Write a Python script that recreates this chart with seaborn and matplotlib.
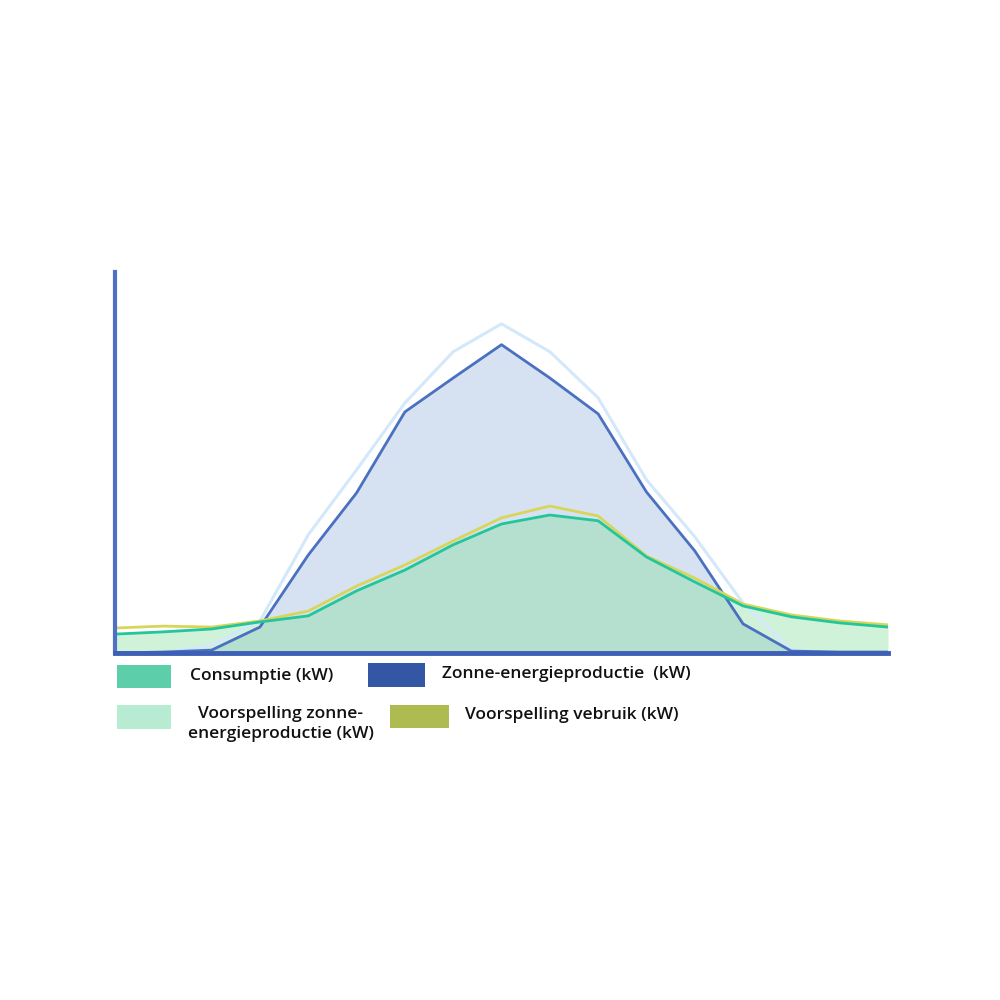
import numpy as np
import pandas as pd
import matplotlib
matplotlib.use("Agg")
import matplotlib.pyplot as plt
import seaborn as sns
from matplotlib.patches import Rectangle

# ---- data (kW) ----
hours = list(range(17))
solar = [0, 0.03, 0.09, 0.81, 3.06, 5.0, 7.53, 8.59, 9.63, 8.59, 7.47, 5.03, 3.19, 0.91, 0.06, 0.03, 0.03]
solar_forecast = [0, 0, 0.25, 1.0, 3.69, 5.72, 7.81, 9.41, 10.28, 9.41, 7.97, 5.41, 3.63, 1.56, 0.09, 0, 0]
consumption = [0.59, 0.66, 0.75, 0.97, 1.16, 1.94, 2.59, 3.38, 4.03, 4.31, 4.13, 3.0, 2.22, 1.47, 1.13, 0.94, 0.81]
consumption_forecast = [0.78, 0.84, 0.81, 1.0, 1.31, 2.09, 2.75, 3.5, 4.22, 4.59, 4.28, 3.03, 2.34, 1.53, 1.19, 1.0, 0.88]

legend_labels = ["Consumptie (kW)", "Zonne-energieproductie  (kW)",
                 "Voorspelling zonne-\nenergieproductie (kW)", "Voorspelling vebruik (kW)"]

df = pd.DataFrame({"hour": hours, "solar": solar, "solar_fc": solar_forecast,
                   "cons": consumption, "cons_fc": consumption_forecast})

sns.set_style("white")
plt.rcParams['font.family'] = ['Open Sans', 'DejaVu Sans']

fig = plt.figure(figsize=(10, 10), dpi=100)
ax = fig.add_axes([0.115, 0.347, 0.773, 0.381])

# fills
ax.fill_between(df["hour"], 0, df["solar"], color="#d6e2f2", lw=0, zorder=1)
ax.fill_between(df["hour"], 0, df["cons"], color="#79da90", alpha=0.35, lw=0, zorder=2)

# lines
sns.lineplot(data=df, x="hour", y="solar_fc", ax=ax, color="#d4e8fb", lw=2.2, zorder=3)
sns.lineplot(data=df, x="hour", y="solar", ax=ax, color="#4a70c0", lw=2.0, zorder=4)
sns.lineplot(data=df, x="hour", y="cons_fc", ax=ax, color="#d8d65a", lw=2.0, zorder=5)
sns.lineplot(data=df, x="hour", y="cons", ax=ax, color="#22c69a", lw=2.0, zorder=6)

ax.set_xlim(0, 16)
ax.set_ylim(0, 11.9)
ax.set_xticks([])
ax.set_yticks([])
ax.set_xlabel("")
ax.set_ylabel("")
for s in ["top", "right"]:
    ax.spines[s].set_visible(False)
ax.spines["left"].set_color("#4f70c4")
ax.spines["left"].set_linewidth(3)
ax.spines["bottom"].set_color("#3d5fb5")
ax.spines["bottom"].set_linewidth(3.5)
ax.spines["left"].set_zorder(10)
ax.spines["bottom"].set_zorder(10)

# legend (manual)
def px(x, y):
    return x / 1000, 1 - y / 1000

patch_specs = [
    (117, 665, 54, 23, "#5ccfaa"),
    (368, 663, 57, 24, "#3457a5"),
    (117, 705, 54, 24, "#b8ecd2"),
    (390, 705, 59, 23, "#adbb50"),
]
for x, y, w, h, c in patch_specs:
    fx, fy = px(x, y + h)
    fig.patches.append(Rectangle((fx, fy), w / 1000, h / 1000, transform=fig.transFigure,
                                 facecolor=c, edgecolor="none"))

fs = 12.5
tc = "#111111"
fig.text(*px(190, 676), legend_labels[0], fontsize=fs, fontweight="semibold", va="center", ha="left", color=tc)
fig.text(*px(442, 674), legend_labels[1], fontsize=fs, fontweight="semibold", va="center", ha="left", color=tc)
fig.text(*px(281, 724), legend_labels[2], fontsize=fs, fontweight="semibold", va="center", ha="center",
         linespacing=1.3, color=tc)
fig.text(*px(465, 715), legend_labels[3], fontsize=fs, fontweight="semibold", va="center", ha="left", color=tc)

fig.savefig("out.png", dpi=100, facecolor="white")
